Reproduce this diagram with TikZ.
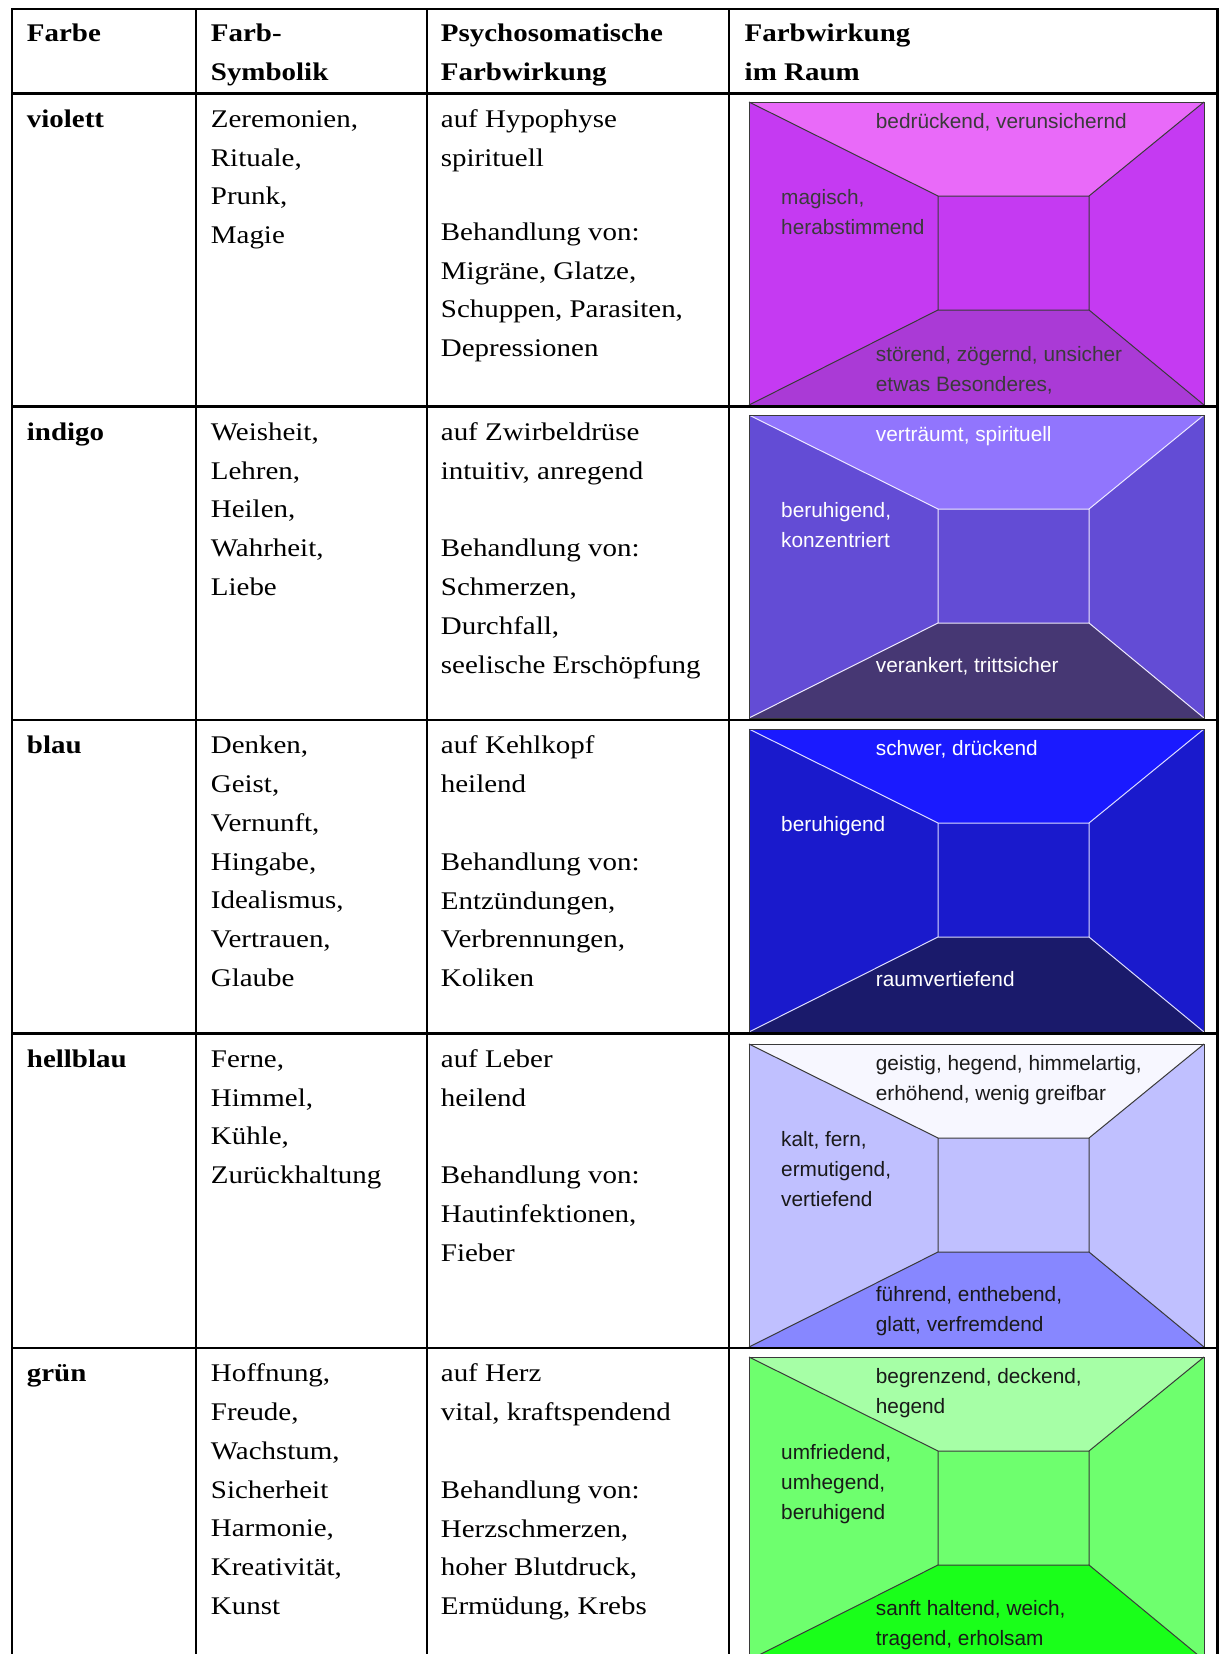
\documentclass[tikz,border=0pt]{standalone}
\usepackage{fontspec}
\setmainfont[FakeStretch=1.14]{Liberation Serif}
\newfontfamily\roomfam{Liberation Sans}
\newcommand\cellfont{\fontsize{25.4}{38.8}\selectfont}
\newcommand\roomfont{\roomfam\fontsize{20.8}{30}\selectfont}
% room colours: ceiling, walls, floor
\definecolor{violettceil}{HTML}{E96AF9}
\definecolor{violettwall}{HTML}{C53AF2}
\definecolor{violettfloor}{HTML}{AA3AD6}
\definecolor{indigoceil}{HTML}{9175FD}
\definecolor{indigowall}{HTML}{634CD5}
\definecolor{indigofloor}{HTML}{463773}
\definecolor{blauceil}{HTML}{1A1AFF}
\definecolor{blauwall}{HTML}{1A1ACC}
\definecolor{blaufloor}{HTML}{1A1A6B}
\definecolor{hellblauceil}{HTML}{F7F7FF}
\definecolor{hellblauwall}{HTML}{C0C0FF}
\definecolor{hellblaufloor}{HTML}{8787FF}
\definecolor{gruenceil}{HTML}{A6FFA6}
\definecolor{gruenwall}{HTML}{6EFF6E}
\definecolor{gruenfloor}{HTML}{1AFF1A}
\definecolor{darkseam}{HTML}{3A3A3A}

\begin{document}
\begin{tikzpicture}[x=1pt, y=-1pt,
    rule/.style={line width=2.4pt, line cap=rect},
    cell/.style={anchor=north west, yshift=27.16pt, inner sep=0pt, align=left, font=\cellfont},
    head/.style={cell, font=\cellfont\bfseries},
    note/.style={anchor=north west, yshift=21pt, inner sep=0pt, align=left, font=\roomfont},
    seam/.style={line width=1pt},
    outline/.style={draw=darkseam, line width=1pt}]
        \useasboundingbox (0,0) rectangle (1219,1654);
        \clip (0,0) rectangle (1219,1654);
        % rooms
        \begin{scope}[shift={(749,102)}]
            \fill [violettwall] (0,0) rectangle (455,303);
            \fill [violettceil] (0,0) -- (455,0) -- (340,94) -- (189,94) -- cycle;
            \fill [violettfloor] (0,303) -- (455,303) -- (340,208) -- (189,208) -- cycle;
            \draw [seam, darkseam] (189,94) rectangle (340,208) (0,0) -- (189,94) (455,0) -- (340,94) (455,303) -- (340,208) (0,303) -- (189,208);
            \draw [outline] (0,0) rectangle (455,303);
            \node [note, darkseam] (violett-ceil) at (126.7,26) {\strut bedrückend, verunsichernd};
            \node [note, darkseam] (violett-wall) at (32,102.7) {\strut magisch,\\herabstimmend};
            \node [note, darkseam] (violett-floor) at (126.7,259) {\strut störend, zögernd, unsicher\\etwas Besonderes,};
        \end{scope}
        \begin{scope}[shift={(749,415)}]
            \fill [indigowall] (0,0) rectangle (455,303);
            \fill [indigoceil] (0,0) -- (455,0) -- (340,94) -- (189,94) -- cycle;
            \fill [indigofloor] (0,303) -- (455,303) -- (340,208) -- (189,208) -- cycle;
            \draw [seam, white!85!indigoceil] (189,94) rectangle (340,208) (0,0) -- (189,94) (455,0) -- (340,94) (455,303) -- (340,208) (0,303) -- (189,208);
            \draw [outline] (0,0) rectangle (455,303);
            \node [note, white] (indigo-ceil) at (126.7,26) {\strut verträumt, spirituell};
            \node [note, white] (indigo-wall) at (32,102.7) {\strut beruhigend,\\konzentriert};
            \node [note, white] (indigo-floor) at (126.7,257) {\strut verankert, trittsicher};
        \end{scope}
        \begin{scope}[shift={(749,729)}]
            \fill [blauwall] (0,0) rectangle (455,303);
            \fill [blauceil] (0,0) -- (455,0) -- (340,94) -- (189,94) -- cycle;
            \fill [blaufloor] (0,303) -- (455,303) -- (340,208) -- (189,208) -- cycle;
            \draw [seam, white!85!blauceil] (189,94) rectangle (340,208) (0,0) -- (189,94) (455,0) -- (340,94) (455,303) -- (340,208) (0,303) -- (189,208);
            \draw [outline] (0,0) rectangle (455,303);
            \node [note, white] (blau-ceil) at (126.7,26) {\strut schwer, drückend};
            \node [note, white] (blau-wall) at (32,102.7) {\strut beruhigend};
            \node [note, white] (blau-floor) at (126.7,257) {\strut raumvertiefend};
        \end{scope}
        \begin{scope}[shift={(749,1044)}]
            \fill [hellblauwall] (0,0) rectangle (455,303);
            \fill [hellblauceil] (0,0) -- (455,0) -- (340,94) -- (189,94) -- cycle;
            \fill [hellblaufloor] (0,303) -- (455,303) -- (340,208) -- (189,208) -- cycle;
            \draw [seam, darkseam] (189,94) rectangle (340,208) (0,0) -- (189,94) (455,0) -- (340,94) (455,303) -- (340,208) (0,303) -- (189,208);
            \draw [outline] (0,0) rectangle (455,303);
            \node [note, black!90] (hellblau-ceil) at (126.7,26) {\strut geistig, hegend, himmelartig,\\erhöhend, wenig greifbar};
            \node [note, black!90] (hellblau-wall) at (32,102.7) {\strut kalt, fern,\\ermutigend,\\vertiefend};
            \node [note, black!90] (hellblau-floor) at (126.7,257) {\strut führend, enthebend,\\glatt, verfremdend};
        \end{scope}
        \begin{scope}[shift={(749,1357)}]
            \fill [gruenwall] (0,0) rectangle (455,303);
            \fill [gruenceil] (0,0) -- (455,0) -- (340,94) -- (189,94) -- cycle;
            \fill [gruenfloor] (0,303) -- (455,303) -- (340,208) -- (189,208) -- cycle;
            \draw [seam, darkseam] (189,94) rectangle (340,208) (0,0) -- (189,94) (455,0) -- (340,94) (455,303) -- (340,208) (0,303) -- (189,208);
            \draw [outline] (0,0) rectangle (455,303);
            \node [note, black!90] (gruen-ceil) at (126.7,26) {\strut begrenzend, deckend,\\hegend};
            \node [note, black!90] (gruen-wall) at (32,102.7) {\strut umfriedend,\\umhegend,\\beruhigend};
            \node [note, black!90] (gruen-floor) at (126.7,258.5) {\strut sanft haltend, weich,\\tragend, erholsam};
        \end{scope}
        % table rules
        \draw [rule] (11.7,9) -- (1217.5,9);
        \draw [rule] (11.7,93.5) -- (1217.5,93.5);
        \draw [rule] (11.7,406.5) -- (1217.5,406.5);
        \draw [rule] (11.7,720) -- (1217.5,720);
        \draw [rule] (11.7,1033.5) -- (1217.5,1033.5);
        \draw [rule] (11.7,1348) -- (1217.5,1348);
        \draw [rule] (11.7,9) -- (11.7,1660);
        \draw [rule] (195.7,9) -- (195.7,1660);
        \draw [rule] (426.7,9) -- (426.7,1660);
        \draw [rule] (729,9) -- (729,1660);
        \draw [rule] (1217.5,9) -- (1217.5,1660);
        % header
        \node [head] (farbe) at (26.7,41.7) {\strut Farbe};
        \node [head] (symbolik) at (210.7,41.7) {\strut Farb-\\Symbolik};
        \node [head] (psycho) at (440.7,41.7) {\strut Psychosomatische\\Farbwirkung};
        \node [head] (raum) at (744.5,41.7) {\strut Farbwirkung\\im Raum};
        % violett
        \node [head] (violett) at (26.7,127) {\strut violett};
        \node [cell] (violett-sym) at (210.7,127) {\strut Zeremonien,\\Rituale,\\Prunk,\\Magie};
        \node [cell] (violett-psy) at (440.7,127) {\strut auf Hypophyse\\spirituell\\[35.5pt]Behandlung von:\\Migräne, Glatze,\\Schuppen, Parasiten,\\Depressionen};
        % indigo
        \node [head] (indigo) at (26.7,440) {\strut indigo};
        \node [cell] (indigo-sym) at (210.7,440) {\strut Weisheit,\\Lehren,\\Heilen,\\Wahrheit,\\Liebe};
        \node [cell] (indigo-psy) at (440.7,440) {\strut auf Zwirbeldrüse\\intuitiv, anregend\\[39pt]Behandlung von:\\Schmerzen,\\Durchfall,\\seelische Erschöpfung};
        % blau
        \node [head] (blau) at (26.7,753.5) {\strut blau};
        \node [cell] (blau-sym) at (210.7,753.5) {\strut Denken,\\Geist,\\Vernunft,\\Hingabe,\\Idealismus,\\Vertrauen,\\Glaube};
        \node [cell] (blau-psy) at (440.7,753.5) {\strut auf Kehlkopf\\heilend\\[39pt]Behandlung von:\\Entzündungen,\\Verbrennungen,\\Koliken};
        % hellblau
        \node [head] (hellblau) at (26.7,1067) {\strut hellblau};
        \node [cell] (hellblau-sym) at (210.7,1067) {\strut Ferne,\\Himmel,\\Kühle,\\Zurückhaltung};
        \node [cell] (hellblau-psy) at (440.7,1067) {\strut auf Leber\\heilend\\[39pt]Behandlung von:\\Hautinfektionen,\\Fieber};
        % gruen
        \node [head] (gruen) at (26.7,1381.5) {\strut grün};
        \node [cell] (gruen-sym) at (210.7,1381.5) {\strut Hoffnung,\\Freude,\\Wachstum,\\Sicherheit\\Harmonie,\\Kreativität,\\Kunst};
        \node [cell] (gruen-psy) at (440.7,1381.5) {\strut auf Herz\\vital, kraftspendend\\[39pt]Behandlung von:\\Herzschmerzen,\\hoher Blutdruck,\\Ermüdung, Krebs};
\end{tikzpicture}
\end{document}
